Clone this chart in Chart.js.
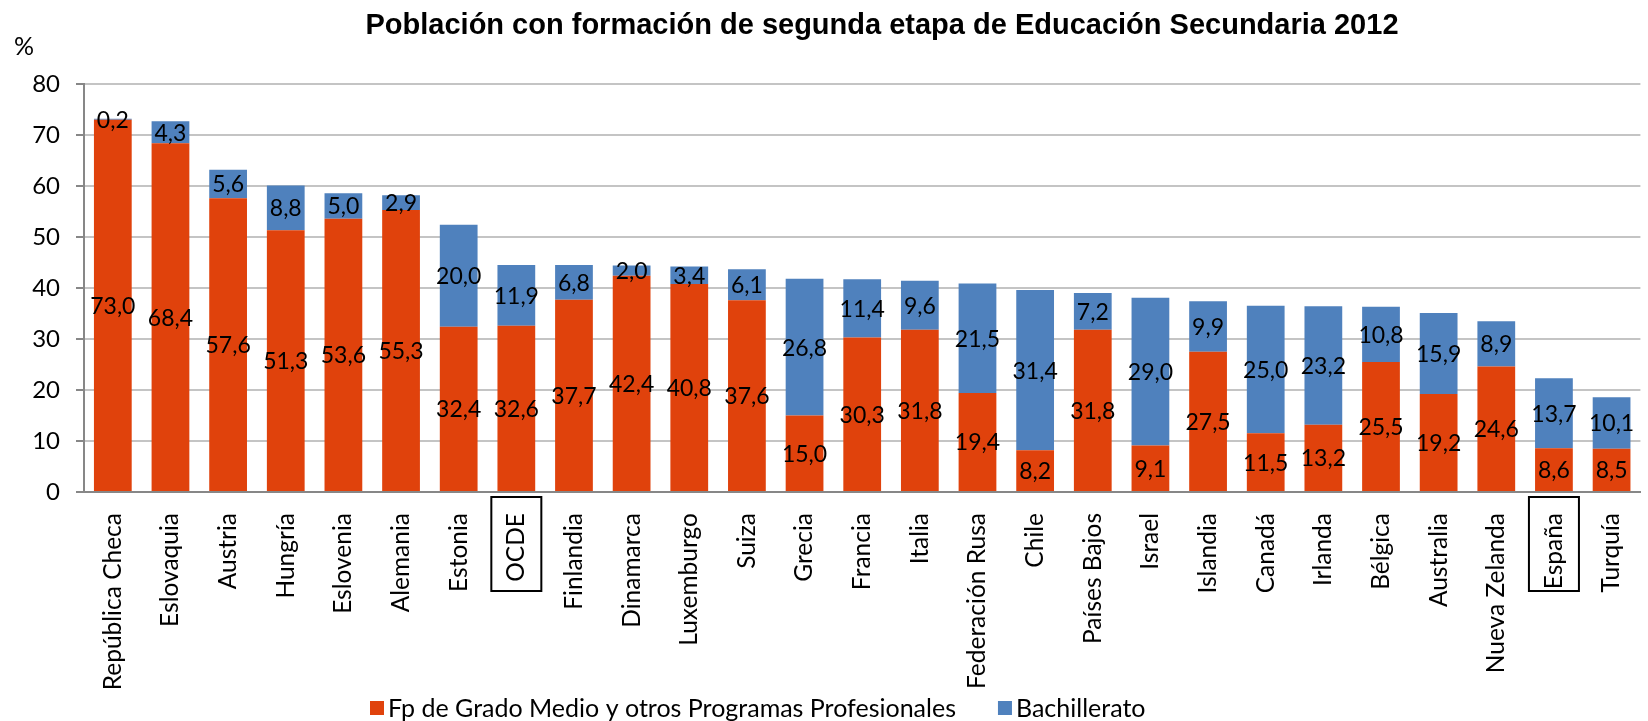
<!DOCTYPE html>
<html>
<head>
<meta charset="utf-8">
<script src="https://cdn.jsdelivr.net/npm/chart.js@4"></script>
<style>
  html, body { margin: 0; padding: 0; background: #fff; overflow: hidden; }
</style>
</head>
<body>
<canvas id="myChart" width="1654" height="721"></canvas>
<script>
// datos
var wPaises = ['República Checa', 'Eslovaquia', 'Austria', 'Hungría', 'Eslovenia', 'Alemania', 'Estonia', 'OCDE',
    'Finlandia', 'Dinamarca', 'Luxemburgo', 'Suiza', 'Grecia', 'Francia', 'Italia', 'Federación Rusa', 'Chile',
    'Países Bajos', 'Israel', 'Islandia', 'Canadá', 'Irlanda', 'Bélgica', 'Australia', 'Nueva Zelanda', 'España', 'Turquía']
var wFp = [73.0, 68.4, 57.6, 51.3, 53.6, 55.3, 32.4, 32.6, 37.7, 42.4, 40.8, 37.6, 15.0, 30.3, 31.8, 19.4, 8.2,
    31.8, 9.1, 27.5, 11.5, 13.2, 25.5, 19.2, 24.6, 8.6, 8.5]
var wBach = [0.2, 4.3, 5.6, 8.8, 5.0, 2.9, 20.0, 11.9, 6.8, 2.0, 3.4, 6.1, 26.8, 11.4, 9.6, 21.5, 31.4,
    7.2, 29.0, 9.9, 25.0, 23.2, 10.8, 15.9, 8.9, 13.7, 10.1]
var wTicks = [0, 10, 20, 30, 40, 50, 60, 70, 80]
var wSeries = ['Fp de Grado Medio y otros Programas Profesionales', 'Bachillerato']
var wTitulo = 'Población con formación de segunda etapa de Educación Secundaria 2012'
var wRecuadros = ['OCDE', 'España']

var wRojo = '#E0420C'
var wAzul = '#4F81BD'
var wFont = 'Lato, "Open Sans", sans-serif'

function fmt(v) {
    return v.toFixed(1).replace('.', ',')
}

var extras = {
    id: 'extras',
    afterDatasetsDraw: function (chart) {
        var ctx = chart.ctx
        ctx.save()
        ctx.font = '23px ' + wFont
        ctx.fillStyle = '#000'
        ctx.textAlign = 'center'
        ctx.textBaseline = 'middle'
        chart.data.datasets.forEach(function (ds, di) {
            var meta = chart.getDatasetMeta(di)
            meta.data.forEach(function (bar, i) {
                var y = (bar.y + bar.base) / 2
                ctx.fillText(fmt(ds.data[i]), bar.x, y + 1)
            })
        })
        ctx.restore()
    },
    afterDraw: function (chart) {
        var ctx = chart.ctx
        var xs = chart.scales.x
        ctx.save()
        // titulo
        ctx.fillStyle = '#000'
        ctx.font = 'bold 29px "Liberation Sans", Arial, sans-serif'
        ctx.textAlign = 'center'
        ctx.textBaseline = 'middle'
        ctx.fillText(wTitulo, 882, 26)
        // unidad
        ctx.font = '25px ' + wFont
        ctx.textAlign = 'left'
        ctx.fillText('%', 14, 47)
        // recuadros
        ctx.strokeStyle = '#000'
        ctx.lineWidth = 2
        wRecuadros.forEach(function (p) {
            var cx = xs.getPixelForValue(wPaises.indexOf(p))
            ctx.strokeRect(cx - 25, 497, 50, 94)
        })
        // leyenda
        ctx.font = '25px ' + wFont
        ctx.textBaseline = 'middle'
        var x = 370
        var y = 708
        var cols = [wRojo, wAzul]
        wSeries.forEach(function (s, i) {
            ctx.fillStyle = cols[i]
            ctx.fillRect(x, y - 7, 14, 14)
            ctx.fillStyle = '#000'
            ctx.fillText(s, x + 18, y + 1)
            x = x + 18 + ctx.measureText(s).width + 42
        })
        ctx.restore()
    }
}

var ctx = document.getElementById('myChart').getContext('2d')
var myChart = new Chart(ctx, {
    type: 'bar',
    data: {
        labels: wPaises,
        datasets: [{
            label: wSeries[0],
            data: wFp,
            backgroundColor: wRojo,
            borderWidth: 0
        }, {
            label: wSeries[1],
            data: wBach,
            backgroundColor: wAzul,
            borderWidth: 0
        }]
    },
    options: {
        responsive: false,
        animation: false,
        devicePixelRatio: 1,
        layout: { padding: { top: 84, right: 1, left: 0, bottom: 0 } },
        datasets: {
            bar: { categoryPercentage: 1, barPercentage: 0.655 }
        },
        plugins: {
            legend: { display: false },
            title: { display: false },
            tooltip: { enabled: false }
        },
        scales: {
            x: {
                stacked: true,
                grid: { display: false },
                border: { display: true, color: '#878787', width: 2 },
                ticks: {
                    color: '#000',
                    font: { family: wFont, size: 24.5 },
                    minRotation: 90,
                    maxRotation: 90,
                    autoSkip: false,
                    padding: 13
                },
                afterFit: function (scale) { scale.height = 229 }
            },
            y: {
                stacked: true,
                min: 0,
                max: 80,
                afterBuildTicks: function (scale) {
                    scale.ticks = wTicks.map(function (v) { return { value: v } })
                },
                grid: { color: '#C4C4C4', lineWidth: 2, tickLength: 8, tickColor: '#878787' },
                border: { display: true, color: '#878787', width: 2 },
                ticks: {
                    color: '#000',
                    font: { family: wFont, size: 24 },
                    padding: 16
                },
                afterFit: function (scale) { scale.width = 84 }
            }
        }
    },
    plugins: [extras]
})
</script>
</body>
</html>
